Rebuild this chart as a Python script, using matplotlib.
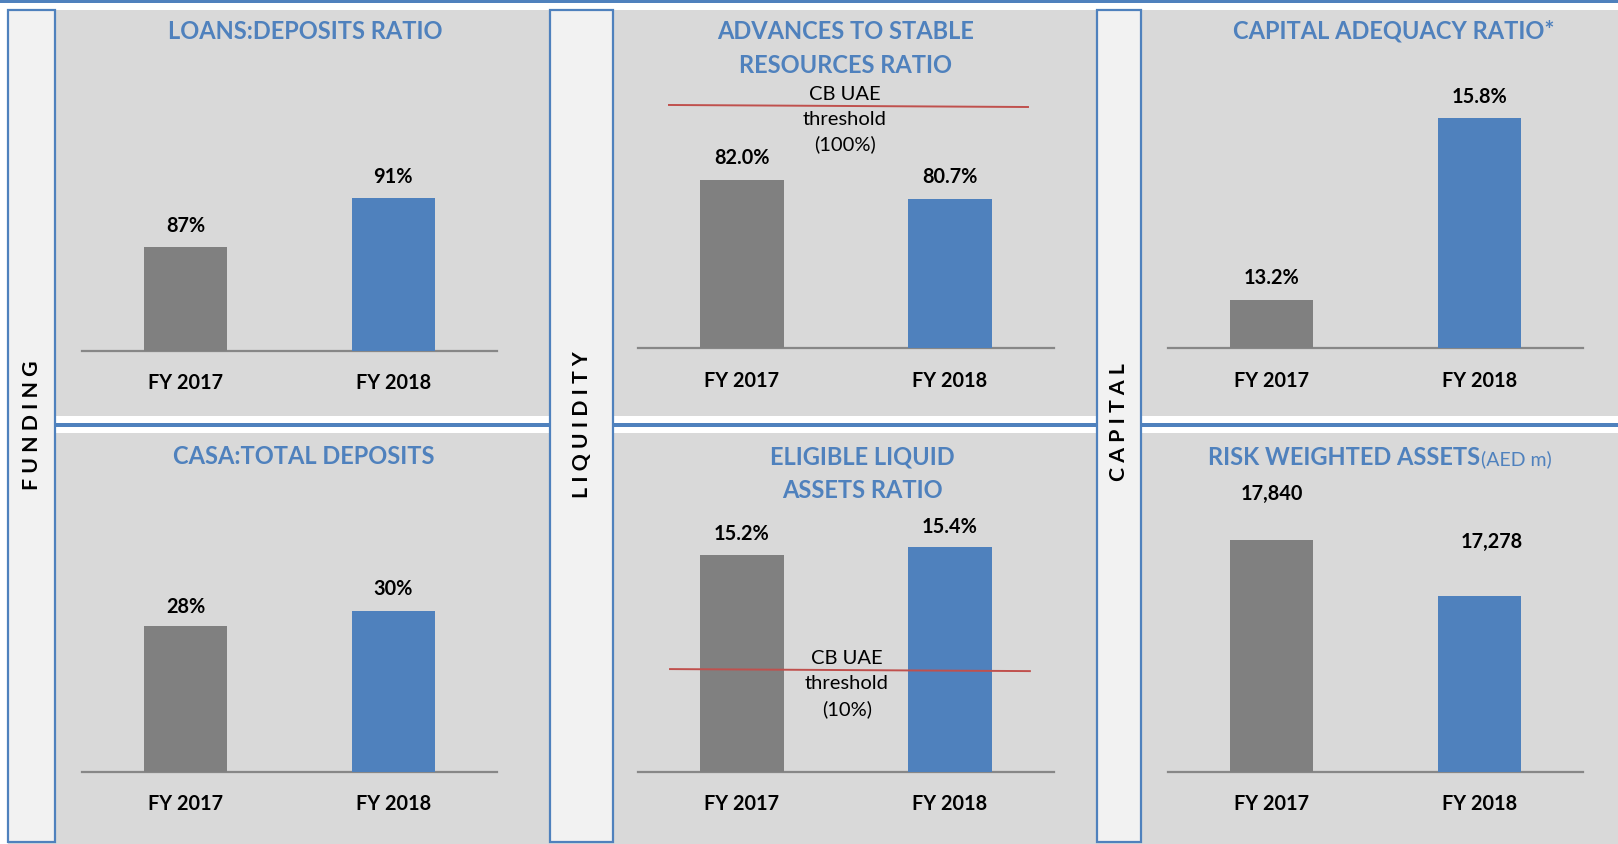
import matplotlib
matplotlib.use("Agg")
import matplotlib.pyplot as plt
from matplotlib.patches import Rectangle

# ---------------- data ----------------
years = ["FY 2017", "FY 2018"]
loans_deposits = [87, 91]
advances_stable = [82.0, 80.7]
capital_adequacy = [13.2, 15.8]
casa_total = [28, 30]
eligible_liquid = [15.2, 15.4]
risk_weighted = [17840, 17278]

titles = [
    ["LOANS:DEPOSITS RATIO"],
    ["ADVANCES TO STABLE", "RESOURCES RATIO"],
    ["CAPITAL ADEQUACY RATIO*"],
    ["CASA:TOTAL DEPOSITS"],
    ["ELIGIBLE LIQUID", "ASSETS RATIO"],
    ["RISK WEIGHTED ASSETS"],
]
title_suffix_rwa = "(AED m)"
sections = ["FUNDING", "LIQUIDITY", "CAPITAL"]
threshold_adv = ["CB UAE", "threshold", "(100%)"]
threshold_ela = ["CB UAE", "threshold", "(10%)"]

# ---------------- style ----------------
W, H, DPI = 1618, 844, 100
BLUE = "#4F81BD"
GREY_BAR = "#808080"
PANEL = "#D9D9D9"
STRIP = "#F2F2F2"
RED = "#C0504D"
AXLINE = "#878787"
FONT = "Lato"
plt.rcParams["font.family"] = [FONT, "DejaVu Sans"]

fig = plt.figure(figsize=(W / DPI, H / DPI), dpi=DPI)
fig.patch.set_facecolor("white")

bg = fig.add_axes([0, 0, 1, 1], zorder=0)
bg.set_xlim(0, W)
bg.set_ylim(H, 0)
bg.axis("off")

# panels / separators
bg.add_patch(Rectangle((0, 0), W, 2.5, color=BLUE, lw=0))
bg.add_patch(Rectangle((8, 10), W - 8, 406, color=PANEL, lw=0))
bg.add_patch(Rectangle((8, 433), W - 8, H - 433, color=PANEL, lw=0))
bg.add_patch(Rectangle((55, 416), W - 55, 17, color="white", lw=0))
bg.add_patch(Rectangle((55, 423), W - 55, 3.5, color=BLUE, lw=0))

strips = [(8, 55), (550, 613), (1097, 1141)]
strip_text_y = [425.5, 425, 422.5]
for (sx0, sx1), name, ty in zip(strips, sections, strip_text_y):
    bg.add_patch(Rectangle((sx0, 10), sx1 - sx0, 832, facecolor=STRIP,
                           edgecolor=BLUE, lw=1.6))
    bg.text((sx0 + sx1) / 2 + 0.5, ty, " ".join(name), rotation=90,
            ha="center", va="center", fontsize=15.3, fontweight="bold",
            color="black")


def px_rect(x0, x1, ytop, ybase):
    return [x0 / W, 1 - ybase / H, (x1 - x0) / W, (ybase - ytop) / H]


panels = [
    dict(vals=loans_deposits, fmt="{:.0f}%", rect=(82, 497, 10, 350.5),
         ylim=(78.55, 106.35), off=[21, 21], xoff=[0, 0]),
    dict(vals=advances_stable, fmt="{:.1f}%", rect=(638, 1054, 10, 348),
         ylim=(70.5, 93.63), off=[22, 22], xoff=[0, 0]),
    dict(vals=capital_adequacy, fmt="{:.1f}%", rect=(1168, 1583, 10, 348),
         ylim=(12.514, 17.343), off=[22, 21], xoff=[0, 0]),
    dict(vals=casa_total, fmt="{:.0f}%", rect=(82, 497, 433, 771.7),
         ylim=(8.57, 53.73), off=[19, 22], xoff=[0, 0]),
    dict(vals=eligible_liquid, fmt="{:.1f}%", rect=(638, 1054, 433, 771.7),
         ylim=(9.78, 18.25), off=[21, 20], xoff=[0, 0]),
    dict(vals=risk_weighted, fmt="{:,.0f}", rect=(1168, 1583, 433, 771.7),
         ylim=(15515, 18914), off=[46, 54], xoff=[0, 12]),
]

axes = []
for p in panels:
    ax = fig.add_axes(px_rect(*p["rect"]), zorder=2)
    ax.set_facecolor("none")
    x = list(range(len(years)))
    ax.bar(x, p["vals"], width=0.4, color=[GREY_BAR, BLUE], zorder=2)
    ax.set_xlim(-0.5, 1.5)
    ax.set_ylim(*p["ylim"])
    for s in ["top", "left", "right"]:
        ax.spines[s].set_visible(False)
    ax.spines["bottom"].set_color(AXLINE)
    ax.spines["bottom"].set_linewidth(1.6)
    ax.spines["bottom"].set_zorder(1)
    ax.set_yticks([])
    ax.set_xticks(x, years, va="center", fontsize=14.3, fontweight="bold",
                  color="black")
    ax.tick_params(axis="x", length=0, pad=23.5)
    for i, v in enumerate(p["vals"]):
        ax.annotate(p["fmt"].format(v), xy=(i, v),
                    xytext=(p["xoff"][i], p["off"][i]),
                    textcoords="offset pixels", ha="center", va="center",
                    fontsize=14.3, fontweight="bold", color="black")
    axes.append(ax)

# titles
title_pos = [
    (305, [31.5]),
    (846, [31.5, 65.5]),
    (1394, [31.5]),
    (304, [456]),
    (862, [456.5, 490.5]),
]
for lines, (tx, tys) in zip(titles[:5], title_pos):
    for line, ty in zip(lines, tys):
        bg.text(tx, ty, line, ha="center", va="center", fontsize=17,
                fontweight="bold", color=BLUE)
bg.text(1480, 465, titles[5][0], ha="right", va="baseline", fontsize=17,
        fontweight="bold", color=BLUE)
bg.text(1481, 465, title_suffix_rwa, ha="left", va="baseline", fontsize=14,
        color=BLUE)

# CB UAE threshold annotations (schematic reference lines)
def threshold(ax, texts, lx, ly, tx, tys):
    ax.plot(lx, ly, color=RED, lw=1.4, transform=ax.transAxes, zorder=3,
            clip_on=False)
    for t, ty in zip(texts, tys):
        ax.text(tx, ty, t, transform=ax.transAxes, ha="center", va="center",
                fontsize=14.5, color="black", zorder=4, clip_on=False)

threshold(axes[1], threshold_adv, [0.0745, 0.9375], [0.719, 0.713], 0.4976,
          [0.751, 0.677, 0.604])
threshold(axes[4], threshold_ela, [0.077, 0.942], [0.303, 0.297], 0.502,
          [0.333, 0.259, 0.185])

fig.savefig("out.png", dpi=DPI, facecolor="white")
